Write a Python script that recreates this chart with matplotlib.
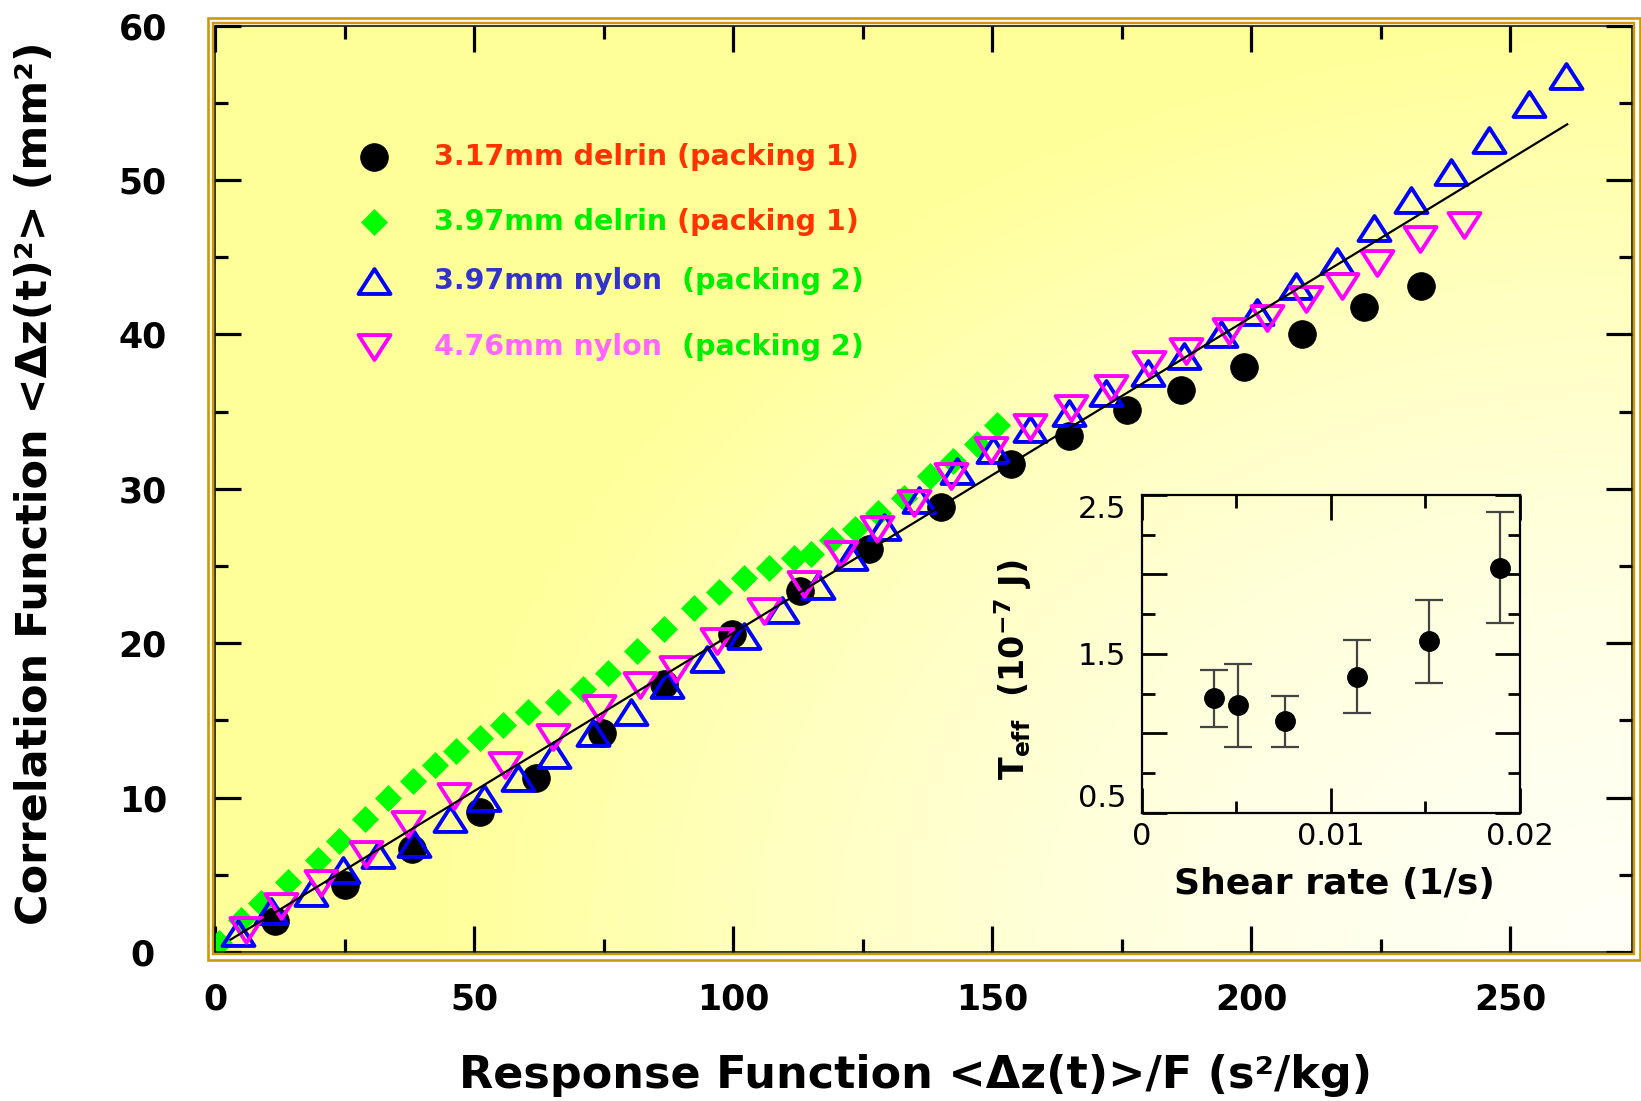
import matplotlib
matplotlib.use('Agg')
import matplotlib.pyplot as plt
import numpy as np
from matplotlib.path import Path
from matplotlib.patches import Rectangle

# 3.17mm delrin (packing 1) - black circles
delrin317_x = [11.5, 25.1, 38.0, 51.1, 62.0, 74.6, 86.6, 99.8, 113.0, 126.2,
               140.1, 153.6, 164.8, 176.1, 186.4, 198.6, 209.9, 221.8, 232.7]
delrin317_y = [2.0, 4.34, 6.69, 9.04, 11.28, 14.2, 17.37, 20.6, 23.35, 26.1,
               28.8, 31.6, 33.4, 35.1, 36.4, 37.9, 40.0, 41.8, 43.1]

# 3.97mm delrin (packing 1) - green diamonds
delrin397_x = [0.8, 5.1, 8.9, 14.1, 19.8, 24.0, 28.9, 33.4, 38.2, 42.4, 46.6,
               51.1, 55.6, 60.4, 66.2, 71.0, 75.9, 81.5, 86.6, 92.5, 97.3,
               102.1, 106.9, 111.7, 115.0, 119.1, 123.5, 128.0, 133.0, 138.0,
               142.5, 147.0, 151.0]
delrin397_y = [0.6, 2.1, 3.16, 4.55, 5.94, 7.22, 8.61, 10.0, 11.07, 12.13, 13.0,
               13.85, 14.7, 15.56, 16.2, 17.05, 18.1, 19.5, 20.9, 22.3, 23.3,
               24.2, 24.85, 25.5, 25.8, 26.7, 27.4, 28.4, 29.4, 30.8,
               31.8, 32.9, 34.1]

# 3.97mm nylon (packing 2) - blue up triangles
nylon397_x = [4.4, 10.8, 18.6, 24.7, 31.4, 38.5, 45.3, 52.0, 58.5, 65.5, 72.9,
              80.2, 87.3, 95.0, 102.1, 109.5, 116.3, 122.7, 129.1, 135.9, 143.3,
              150.2, 157.4, 164.8, 171.9, 180.0, 187.0, 194.1, 201.2, 208.7,
              216.5, 223.7, 230.8, 238.5, 245.9, 253.6, 260.7]
nylon397_y = [1.24, 2.63, 3.8, 5.3, 6.26, 7.0, 8.6, 10.0, 11.28, 12.78, 14.17,
              15.56, 17.26, 18.97, 20.47, 22.18, 23.67, 25.6, 27.5, 29.3, 31.15,
              32.5, 33.9, 34.9, 36.2, 37.5, 38.6, 40.0, 41.45, 43.15,
              44.75, 46.9, 48.7, 50.5, 52.6, 54.9, 56.7]

# 4.76mm nylon (packing 2) - magenta down triangles
nylon476_x = [6.0, 12.8, 20.5, 29.2, 37.2, 46.2, 55.9, 65.2, 74.2, 82.1, 88.9,
              96.9, 105.9, 113.7, 120.8, 127.8, 134.9, 142.0, 149.7, 157.4,
              165.2, 172.9, 180.3, 187.4, 195.7, 203.1, 210.5, 217.5, 224.2,
              232.6, 241.0]
nylon476_y = [1.45, 2.95, 4.44, 6.37, 8.29, 10.1, 12.1, 13.95, 15.77, 17.26, 18.3,
              20.15, 22.07, 23.8, 25.8, 27.4, 29.1, 30.8, 32.5, 34.0,
              35.2, 36.5, 38.1, 38.95, 40.2, 41.05, 42.3, 43.15, 44.65,
              46.15, 47.1]

# straight line fit
fit_x = [3.0, 261.0]
fit_y = [0.8, 53.6]

# inset: effective temperature vs shear rate
shear_rate = [0.00383, 0.00507, 0.0076, 0.01139, 0.01518, 0.01895]
t_eff = [1.22, 1.175, 1.075, 1.357, 1.578, 2.043]
t_eff_err = [0.18, 0.26, 0.16, 0.23, 0.26, 0.35]

main_xticks = [0, 50, 100, 150, 200, 250]
main_yticks = [0, 10, 20, 30, 40, 50, 60]
inset_xticks = [0, 0.01, 0.02]
inset_xlabels = ['0', '0.01', '0.02']
inset_yticks = [0.5, 1.0, 1.5, 2.0, 2.5]
inset_ylabels = ['0.5', '', '1.5', '', '2.5']

# legend rows: pieces of (text, colour)
legend_rows = [
    [('3.17mm delrin (packing 1)', '#ff3300')],
    [('3.97mm delrin', '#00ee00'), ('(packing 1)', '#ff3300')],
    [('3.97mm nylon', '#3333cc'), ('(packing 2)', '#00ee00')],
    [('4.76mm nylon', '#ff66ff'), ('(packing 2)', '#00ee00')],
]
legend_gaps = [0, 7, 14, 14]

# wide, flat triangles like the original
tri_up = Path([(-1, -0.78), (1, -0.78), (0, 0.78), (-1, -0.78)],
              [Path.MOVETO, Path.LINETO, Path.LINETO, Path.CLOSEPOLY])
tri_dn = Path([(-1, 0.78), (1, 0.78), (0, -0.78), (-1, 0.78)],
              [Path.MOVETO, Path.LINETO, Path.LINETO, Path.CLOSEPOLY])

styles = [
    dict(marker='o', ms=20, mfc='black', mec='black', mew=0.5, ls='none'),
    dict(marker='D', ms=12.8, mfc='#00ff00', mec='#00ff00', mew=0.5, ls='none'),
    dict(marker=tri_up, ms=23, mfc='none', mec='#0000ff', mew=2.8, ls='none'),
    dict(marker=tri_dn, ms=23, mfc='none', mec='#ff00ff', mew=2.8, ls='none'),
]

fig = plt.figure(figsize=(16.41, 11.01), dpi=100)
W, H = 1641.0, 1101.0
ax_px = (215.0, 149.0, 1417.0, 926.5)   # left, bottom, width, height in pixels
ax = fig.add_axes([ax_px[0] / W, ax_px[1] / H, ax_px[2] / W, ax_px[3] / H])

# yellow to white background
ny, nx = 300, 450
u = np.linspace(0, 1, nx)[None, :]
v = np.linspace(1, 0, ny)[:, None]
d = np.sqrt(((1 - u) / 0.85) ** 2 + (v / 1.0) ** 2)
s = np.clip(d, 0, 1) ** 1.6
yellow = np.array([255, 255, 153]) / 255.0
white = np.array([255, 255, 246]) / 255.0
img = white + (yellow - white) * s[..., None]
ax.imshow(img, extent=[0, 1, 0, 1], transform=ax.transAxes, aspect='auto',
          zorder=0, interpolation='bilinear')

ax.plot(delrin397_x, delrin397_y, zorder=2, **styles[1])
ax.plot(delrin317_x, delrin317_y, zorder=3, **styles[0])
ax.plot(nylon397_x, nylon397_y, zorder=4, **styles[2])
ax.plot(nylon476_x, nylon476_y, zorder=5, **styles[3])
ax.plot(fit_x, fit_y, color='black', lw=1.6, zorder=6)

ax.set_xlim(0, 273.5)
ax.set_ylim(0, 60)
ax.set_xticks(main_xticks, labels=[str(t) for t in main_xticks],
              fontsize=25, fontweight='bold', va='center')
ax.set_yticks(main_yticks, labels=[str(t) for t in main_yticks],
              fontsize=25, fontweight='bold', ha='center')
ax.set_xticks(np.arange(25, 273, 50), minor=True)
ax.set_yticks(np.arange(5, 60, 10), minor=True)
ax.tick_params(which='both', direction='in', top=True, right=True, width=2.3)
ax.tick_params(which='major', length=19)
ax.tick_params(which='minor', length=9.5)
ax.tick_params(axis='x', which='major', pad=34)
ax.tick_params(axis='y', which='major', pad=52)
for sp in ax.spines.values():
    sp.set_linewidth(1.1)
    sp.set_color('black')

# double golden frame
for off, lw in [(2.3, 1.7), (7.5, 1.9)]:
    fig.add_artist(Rectangle(((ax_px[0] - off) / W, (ax_px[1] - off) / H),
                             (ax_px[2] + 2 * off) / W, (ax_px[3] + 2 * off) / H,
                             transform=fig.transFigure, fill=False,
                             edgecolor='#cc9a06', lw=lw, zorder=10))

fig.text(0.558, 0.0236, 'Response Function <Δz(t)>/F (s²/kg)', fontsize=32,
         fontweight='bold', ha='center', va='center')
fig.text(0.0213, 0.5613, 'Correlation Function <Δz(t)²> (mm²)', fontsize=31,
         fontweight='bold', ha='center', va='center', rotation=90)

# hand made legend with coloured text
row_y = [0.8578, 0.7878, 0.7247, 0.6525]
for i, row in enumerate(legend_rows):
    ax.plot([0.1119], [row_y[i]], transform=ax.transAxes, clip_on=False,
            zorder=7, **styles[i])
    prev = ax.text(0.1548, row_y[i], row[0][0], color=row[0][1], fontsize=20.5,
                   fontweight='bold', ha='left', va='center', transform=ax.transAxes)
    for txt, col in row[1:]:
        prev = ax.annotate(txt, xy=(1, 0.5), xycoords=prev,
                           xytext=(legend_gaps[i], 0), textcoords='offset points',
                           color=col, fontsize=20.5, fontweight='bold',
                           ha='left', va='center')

# inset
ins = fig.add_axes([1141.7 / W, 288.3 / H, 378.3 / W, 317.7 / H])
ins.patch.set_alpha(0)
ins.errorbar(shear_rate, t_eff, yerr=t_eff_err, fmt='o', color='black', ms=14,
             ecolor='#444444', elinewidth=1.6, capsize=10, capthick=1.6)
ins.set_xlim(0, 0.02)
ins.set_ylim(0.5, 2.5)
ins.set_xticks(inset_xticks, labels=inset_xlabels, fontsize=22, va='center')
ins.set_yticks(inset_yticks, labels=inset_ylabels, fontsize=22)
ins.set_xticks([0.005, 0.015], minor=True)
ins.set_yticks([0.75, 1.25, 1.75, 2.25], minor=True)
ins.tick_params(which='both', direction='in', top=True, right=True, width=2)
ins.tick_params(which='major', length=18)
ins.tick_params(which='minor', length=9)
ins.tick_params(axis='x', which='major', pad=17)
ins.tick_params(axis='y', which='major', pad=11)
ylabs = ins.get_yticklabels()
ylabs[0].set_va('bottom')
ylabs[-1].set_va('top')
for sp in ins.spines.values():
    sp.set_linewidth(1.6)

fig.text(0.8129, 0.1971, 'Shear rate (1/s)', fontsize=26, fontweight='bold',
         ha='center', va='center')
fig.text(0.6173, 0.3915, r'T$_{\mathbf{eff}}$  (10$^{\mathbf{-7}}$ J)', fontsize=24,
         fontweight='bold', ha='center', va='center', rotation=90)

fig.savefig('out.png', dpi=100)
